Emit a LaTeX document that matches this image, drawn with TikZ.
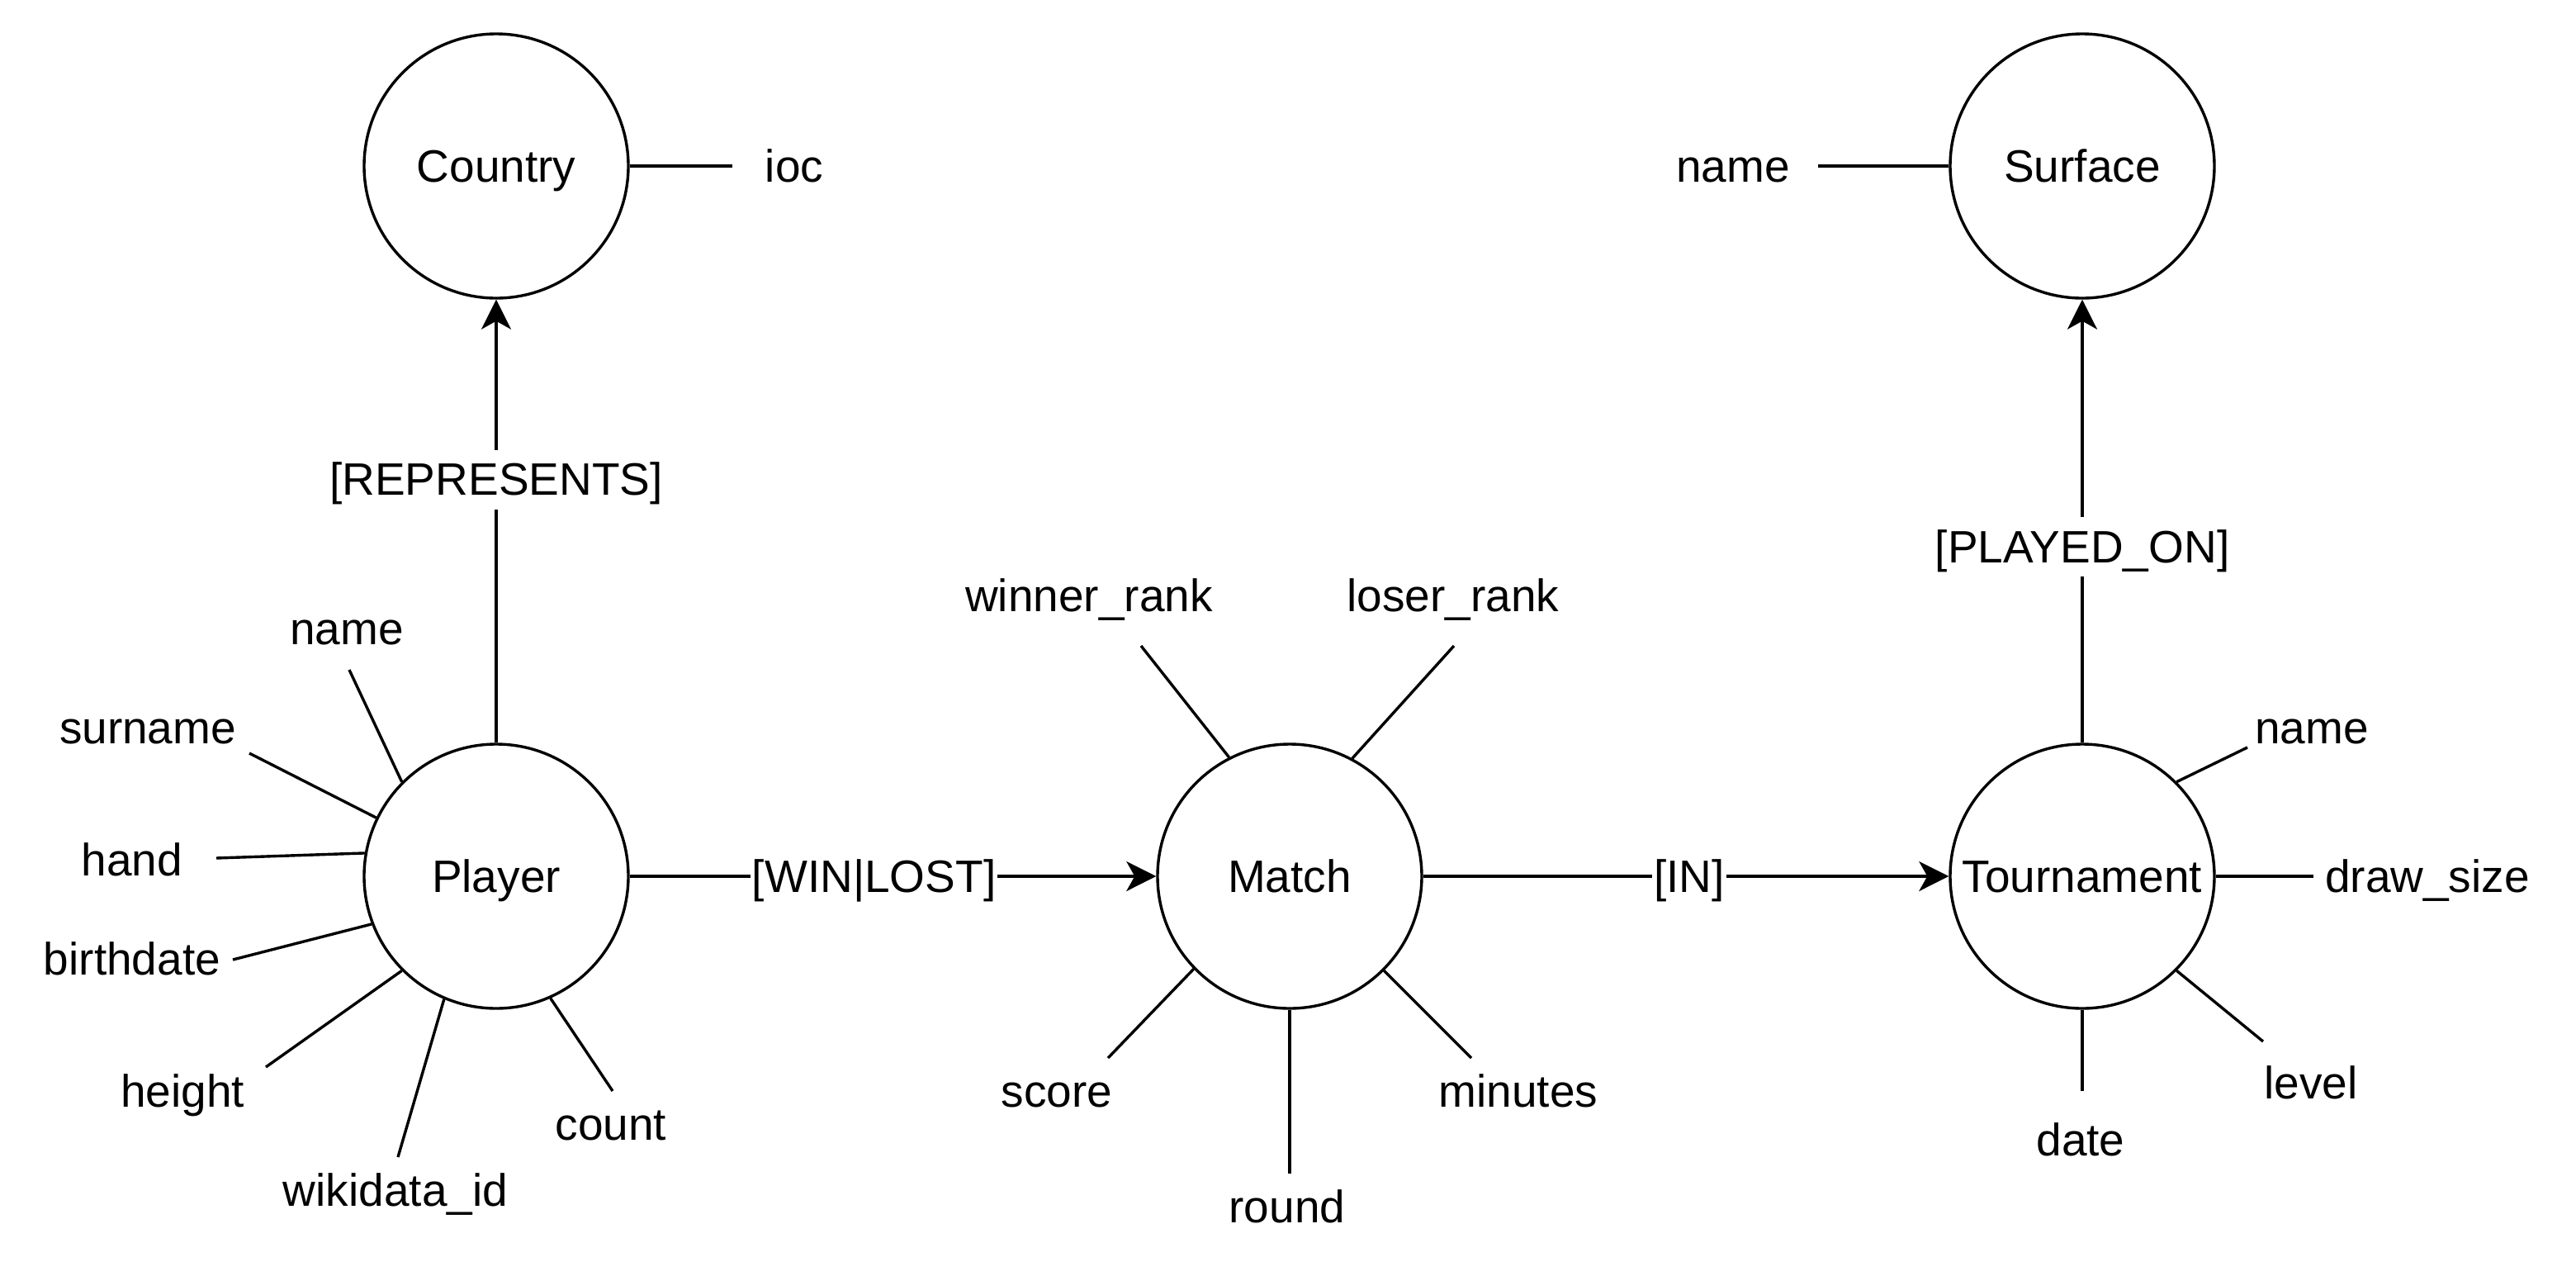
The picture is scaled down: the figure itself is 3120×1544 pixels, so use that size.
\documentclass[tikz,border=0pt]{standalone}
\usepackage{fontspec}
\setmainfont{Liberation Sans}
\usetikzlibrary{arrows.meta}
\begin{document}
\begin{tikzpicture}[x=0.25pt,y=-0.25pt,
  fnt/.style={font=\fontsize{13.75pt}{16pt}\selectfont},
  ent/.style={circle,draw,line width=0.85pt,minimum size=80pt,inner sep=0pt,fnt,text height=13.2pt,text depth=3.6pt},
  txt/.style={inner sep=0pt,fnt,text height=13.2pt,text depth=3.6pt},
  lbl/.style={txt,fill=white,inner xsep=0.5pt,inner ysep=0.6pt},
  attr/.style={line width=0.85pt},
  rel/.style={line width=0.85pt,-{Stealth[length=9pt,width=9pt,inset=2.5pt]}}
]
\fill[white] (0,0) rectangle (3120,1544);
\useasboundingbox (0,0) rectangle (3120,1544);

% entities
\node[ent] (country) at (601,201) {Country};
\node[ent] (surface) at (2522,201) {Surface};
\node[ent] (player) at (601,1061) {Player};
\node[ent] (match) at (1562,1061) {Match};
\node[ent] (tour) at (2522,1061) {Tournament};

% attribute texts
\node[txt] (cioc) at (962,201) {ioc};
\node[txt] (sname) at (2099,201) {name};
\node[txt] (pname) at (420,761) {name};
\node[txt] (psurname) at (179,881) {surname};
\node[txt] (phand) at (160,1041) {hand};
\node[txt] (pbirth) at (160,1161) {birthdate};
\node[txt] (pheight) at (221,1321) {height};
\node[txt] (pwiki) at (479,1441) {wikidata\_id};
\node[txt] (pcount) at (740,1361) {count};
\node[txt] (mwin) at (1319,721) {winner\_rank};
\node[txt] (mlose) at (1760,721) {loser\_rank};
\node[txt] (mscore) at (1280,1321) {score};
\node[txt] (mround) at (1559,1461) {round};
\node[txt] (mmin) at (1839,1321) {minutes};
\node[txt] (tname) at (2800,881) {name};
\node[txt] (tdraw) at (2940,1061) {draw\_size};
\node[txt] (tlevel) at (2799,1311) {level};
\node[txt] (tdate) at (2520,1380) {date};

% free ends of attribute lines
\coordinate (ciocE) at (887,201);
\coordinate (snameE) at (2202,201);
\coordinate (pnameE) at (423,811);
\coordinate (psurnameE) at (302,912);
\coordinate (phandE) at (262,1039);
\coordinate (pbirthE) at (282,1162);
\coordinate (pheightE) at (322,1292);
\coordinate (pwikiE) at (482,1401);
\coordinate (pcountE) at (742,1321);
\coordinate (mwinE) at (1382,782);
\coordinate (mloseE) at (1761,782);
\coordinate (mscoreE) at (1342,1281);
\coordinate (mroundE) at (1562,1421);
\coordinate (mminE) at (1782,1281);
\coordinate (tnameE) at (2722,905);
\coordinate (tdrawE) at (2802,1061);
\coordinate (tlevelE) at (2741,1261);
\coordinate (tdateE) at (2522,1321);

% attribute lines
\draw[attr] (country.0) -- (ciocE);
\draw[attr] (surface.180) -- (snameE);
\draw[attr] (player.135) -- (pnameE);
\draw[attr] (player.154.6) -- (psurnameE);
\draw[attr] (player.170.2) -- (phandE);
\draw[attr] (player.201.9) -- (pbirthE);
\draw[attr] (player.225.5) -- (pheightE);
\draw[attr] (player.247) -- (pwikiE);
\draw[attr] (player.294) -- (pcountE);
\draw[attr] (match.117.8) -- (mwinE);
\draw[attr] (match.62.5) -- (mloseE);
\draw[attr] (match.224.7) -- (mscoreE);
\draw[attr] (match.270) -- (mroundE);
\draw[attr] (match.315.3) -- (mminE);
\draw[attr] (tour.45) -- (tnameE);
\draw[attr] (tour.0) -- (tdrawE);
\draw[attr] (tour.315) -- (tlevelE);
\draw[attr] (tour.270) -- (tdateE);

% relationships
\draw[rel] (player) -- node[lbl,pos=0.594] {[REPRESENTS]} (country);
\draw[rel] (player) -- node[lbl,pos=0.464] {[WIN|LOST]} (match);
\draw[rel] (match) -- node[lbl,pos=0.506] {[IN]} (tour);
\draw[rel] (tour) -- node[lbl,pos=0.442] {[PLAYED\_ON]} (surface);
\end{tikzpicture}
\end{document}
